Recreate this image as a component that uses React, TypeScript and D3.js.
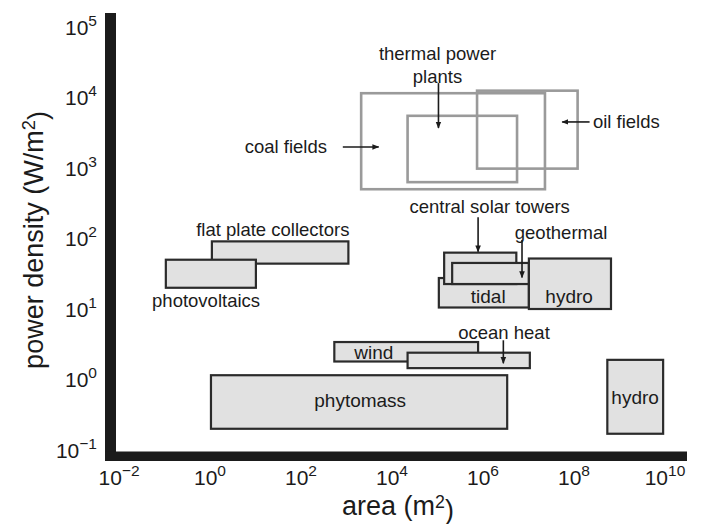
import React from "react";
import * as d3 from "d3";

const W = 713;
const H = 524;

// ---- data ----
const boxNames = [
  "coal fields", "thermal power plants", "oil fields",
  "flat plate collectors", "photovoltaics",
  "tidal", "central solar towers", "geothermal", "hydro",
  "wind", "ocean heat", "phytomass", "hydro (large)",
];
const boxKind = [
  "outline", "outline", "outline",
  "filled", "filled", "filled", "filled", "filled", "filled",
  "filled", "filled", "filled", "filled",
];
const boxAreaMin = [2.1e3, 2.2e4, 7.4e5, 1.1, 0.107, 1.07e5, 1.4e5, 2.1e5, 1.02e7, 540, 2.2e4, 1.05, 5.4e8];
const boxAreaMax = [2.3e7, 5.6e6, 1.2e8, 1.1e3, 10.2, 1.02e7, 5.4e6, 1.02e7, 6.5e8, 7.8e5, 1.07e7, 3.4e6, 9.1e9];
const boxPowerMin = [500, 630, 980, 44, 20, 10.5, 22.6, 22.6, 10, 1.8, 1.45, 0.2, 0.17];
const boxPowerMax = [1.15e4, 5.5e3, 1.25e4, 91, 50, 27.5, 63, 45, 52, 3.4, 2.4, 1.15, 1.9];

// labels drawn inside boxes
const innerText = ["tidal", "hydro", "wind", "phytomass", "hydro"];
const innerArea = [1.3e6, 7.8e7, 4000, 2000, 2.2e9];
const innerPower = [15, 15, 2.4, 0.51, 0.56];

// labels outside boxes
const annText = [
  "coal fields", "thermal power", "plants", "oil fields",
  "central solar towers", "geothermal", "ocean heat",
  "flat plate collectors", "photovoltaics",
];
const annArea = [372, 1.0e5, 1.0e5, 2.6e8, 1.4e6, 5.2e7, 2.9e6, 24, 0.82];
const annPower = [1990, 4.2e4, 2.0e4, 4500, 280, 120, 4.6, 135, 13.4];
const annAnchor = ["end", "middle", "middle", "start", "middle", "middle", "middle", "middle", "middle"];

// arrows (from -> to)
const arrFromArea = [830, 1.05e5, 2.2e8, 7.8e5, 7.2e6, 2.8e6];
const arrFromPower = [1990, 1.6e4, 4500, 200, 95, 3.6];
const arrToArea = [5100, 1.05e5, 5.5e7, 7.8e5, 7.2e6, 2.8e6];
const arrToPower = [1990, 3700, 4500, 65, 28, 1.7];

const xTickExp = [-2, 0, 2, 4, 6, 8, 10];
const yTickExp = [-1, 0, 1, 2, 3, 4, 5];

const FONT = "'Liberation Sans', Arial, Helvetica, sans-serif";
const INK = "#1b1b1b";

function supLabel(exp: number) {
  const e = exp < 0 ? "\u2212" + Math.abs(exp) : String(exp);
  return (
    <>
      <tspan>10</tspan>
      <tspan dy="-0.55em" fontSize="0.74em">{e}</tspan>
    </>
  );
}

export default function App() {
  const x = d3.scaleLog().domain([1, 1e10]).range([210, 665]);
  const y = d3.scaleLog().domain([0.1, 1e5]).range([450, 27]);

  const frameLeft = 105;
  const frameTop = 13;
  const frameRight = 687;
  const frameBottom = 461;
  const vW = 11;
  const hW = 9.5;

  return (
    <svg width={W} height={H} style={{ display: "block", position: "absolute", left: 0, top: 0, background: "#fff" }} fontFamily={FONT}>
      <defs>
        <marker id="ah" viewBox="0 0 10 10" refX="9" refY="5" markerWidth="7" markerHeight="7" orient="auto-start-reverse" markerUnits="userSpaceOnUse">
          <path d="M0,1 L10,5 L0,9 Z" fill={INK} />
        </marker>
      </defs>

      {/* boxes */}
      {boxNames.map((n, i) => {
        const x0 = x(boxAreaMin[i]);
        const x1 = x(boxAreaMax[i]);
        const y0 = y(boxPowerMax[i]);
        const y1 = y(boxPowerMin[i]);
        const outline = boxKind[i] === "outline";
        return (
          <rect
            key={i}
            x={x0}
            y={y0}
            width={x1 - x0}
            height={y1 - y0}
            fill={outline ? "none" : "#e1e1e1"}
            stroke={outline ? "#9a9a9a" : "#2b2b2b"}
            strokeWidth={outline ? 2.6 : 2.2}
          />
        );
      })}

      {/* inner labels */}
      {innerText.map((t, i) => (
        <text key={i} x={x(innerArea[i])} y={y(innerPower[i])} textAnchor="middle" dominantBaseline="central" fontSize={19} fill={INK}>
          {t}
        </text>
      ))}

      {/* annotations */}
      {annText.map((t, i) => (
        <text key={i} x={x(annArea[i])} y={y(annPower[i])} textAnchor={annAnchor[i]} dominantBaseline="central" fontSize={18.5} fill={INK}>
          {t}
        </text>
      ))}

      {/* arrows */}
      {arrFromArea.map((_, i) => (
        <line
          key={i}
          x1={x(arrFromArea[i])}
          y1={y(arrFromPower[i])}
          x2={x(arrToArea[i])}
          y2={y(arrToPower[i])}
          stroke={INK}
          strokeWidth={1.6}
          markerEnd="url(#ah)"
        />
      ))}

      {/* axis frame */}
      <rect x={frameLeft} y={frameTop} width={vW} height={frameBottom - frameTop} fill={INK} />
      <rect x={frameLeft} y={frameBottom - hW} width={frameRight - frameLeft} height={hW} fill={INK} />

      {/* x tick labels */}
      {xTickExp.map((e) => (
        <text key={e} x={x(Math.pow(10, e))} y={485} textAnchor="middle" fontSize={21} fill={INK}>
          {supLabel(e)}
        </text>
      ))}

      {/* y tick labels */}
      {yTickExp.map((e) => (
        <text key={e} x={97} y={y(Math.pow(10, e)) + 7.5} textAnchor="end" fontSize={21} fill={INK}>
          {supLabel(e)}
        </text>
      ))}

      {/* axis titles */}
      <text x={398} y={515} textAnchor="middle" fontSize={27} fill={INK}>
        area (m<tspan dy="-0.42em" fontSize="0.66em">2</tspan><tspan dy="0.42em">)</tspan>
      </text>
      <text transform={`translate(43, 240) rotate(-90)`} textAnchor="middle" fontSize={27} fill={INK}>
        power density (W/m<tspan dy="-0.45em" fontSize="0.68em">2</tspan><tspan dy="0.45em">)</tspan>
      </text>
    </svg>
  );
}
